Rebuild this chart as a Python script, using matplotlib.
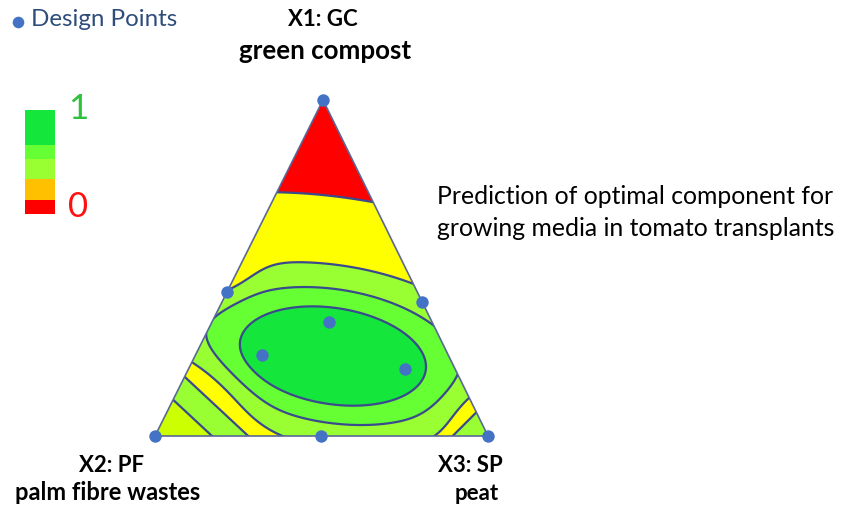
import numpy as np
import matplotlib
matplotlib.use("Agg")
import matplotlib.pyplot as plt
from matplotlib.patches import Polygon, Rectangle

plt.rcParams['font.family'] = ['Lato', 'DejaVu Sans']

# ---------------- data ----------------
vertex_codes = ["X1: GC", "X2: PF", "X3: SP"]
vertex_names = ["green compost", "palm fibre wastes", "peat"]
title_lines = ["Prediction of optimal component for",
               "growing media in tomato transplants"]

# design points of the mixture experiment (fractions of GC, PF, SP)
design_gc = [1.00, 0.00, 0.00, 0.43, 0.40, 0.00, 0.34, 0.24, 0.20]
design_pf = [0.00, 1.00, 0.00, 0.57, 0.00, 0.50, 0.31, 0.56, 0.15]
design_sp = [0.00, 0.00, 1.00, 0.00, 0.60, 0.50, 0.35, 0.20, 0.65]

# desirability classes
class_levels = [-1.0, 0.088, 0.45, 0.65, 0.80, 2.0]
class_colors = ["#ff0000", "#ffff00", "#99ff33", "#66ff33", "#14e63c"]
line_levels = [0.088, 0.45, 0.65, 0.80]
corner_level = 0.55
corner_color = "#ccff00"

legend_colors = ["#ff0000", "#ffc000", "#99ff33", "#66ff33", "#14e63c"]
legend_low, legend_high = "0", "1"

# optimum blend (GC, PF, SP) of the desirability surface
optimum = (0.238, 0.348, 0.414)

# ---------------- layout ----------------
W, H = 856, 509
apex = {"GC": (323, 100), "PF": (155, 436), "SP": (488, 436)}
line_color = "#3a4a8c"
point_color = "#4472c4"


def to_xy(gc, pf, sp):
    gc, pf, sp = np.asarray(gc), np.asarray(pf), np.asarray(sp)
    x = gc * apex["GC"][0] + pf * apex["PF"][0] + sp * apex["SP"][0]
    y = gc * apex["GC"][1] + pf * apex["PF"][1] + sp * apex["SP"][1]
    return x, y


def stripe(X, Y, x0, y0, ax_dir, s_along, s_cross, depth):
    ax_dir = np.asarray(ax_dir, float) / np.hypot(*ax_dir)
    a = (X - x0) * ax_dir[0] + (Y - y0) * ax_dir[1]
    c = -(X - x0) * ax_dir[1] + (Y - y0) * ax_dir[0]
    return depth * np.exp(-0.5 * ((a / s_along) ** 2 + (c / s_cross) ** 2))


def desirability(X, Y):
    cx, cy = to_xy(*optimum)
    th = np.deg2rad(9.0)
    dx, dy = X - cx, Y - cy
    u = dx * np.cos(th) + dy * np.sin(th)
    v = -dx * np.sin(th) + dy * np.cos(th)
    core = np.exp(-0.223 * ((u / 94.0) ** 2 + (v / 48.0) ** 2))
    # troughs between the optimum and the binary blends
    core = core - stripe(X, Y, 215, 385, (0.73, 0.68), 40, 14, 0.17)
    core = core - stripe(X, Y, 468, 405, (-0.707, 0.707), 30, 15, 0.14)
    core = core - stripe(X, Y, 226, 281, (0.87, -0.49), 25, 12, 0.16)
    # shoulders towards the pure PF and SP corners
    xl, yl = apex["PF"]
    s_left = (X - xl) * 0.68 - (Y - yl) * 0.73
    left = 0.62 * np.exp(-(s_left / 112.0) ** 2)
    xr, yr = apex["SP"]
    s_right = -(X - xr) * 0.707 - (Y - yr) * 0.707
    right = 0.52 * np.exp(-(s_right / 65.7) ** 2)
    return np.maximum.reduce([core, left, right]), left


fig = plt.figure(figsize=(W / 100, H / 100), dpi=100)
ax = fig.add_axes([0, 0, 1, 1])
ax.set_xlim(0, W)
ax.set_ylim(H, 0)
ax.axis("off")

tri = Polygon([apex["GC"], apex["PF"], apex["SP"]], closed=True,
              facecolor="none", edgecolor="#5a6896", lw=1.2, zorder=4)
ax.add_patch(tri)

xs = np.linspace(140, 505, 731)
ys = np.linspace(90, 446, 713)
X, Y = np.meshgrid(xs, ys)
F, corner = desirability(X, Y)

fills = ax.contourf(X, Y, F, levels=class_levels, colors=class_colors, zorder=1)
fills.set_clip_path(tri)
corner_fill = ax.contourf(X, Y, corner, levels=[corner_level, 2.0],
                          colors=[corner_color], zorder=2)
corner_fill.set_clip_path(tri)
lines = ax.contour(X, Y, F, levels=line_levels, colors=line_color,
                   linewidths=1.6, zorder=3)
lines.set_clip_path(tri)
corner_line = ax.contour(X, Y, corner, levels=[corner_level], colors=line_color,
                         linewidths=1.6, zorder=3)
corner_line.set_clip_path(tri)

px, py = to_xy(design_gc, design_pf, design_sp)
ax.scatter(px, py, s=80, color=point_color, zorder=6, clip_on=False, lw=0)

# vertex labels
ax.text(323, 19, vertex_codes[0], ha="center", va="center", fontsize=16,
        fontweight="bold")
ax.text(325, 51, vertex_names[0], ha="center", va="center", fontsize=18.6,
        fontweight="bold")
ax.text(112, 466, vertex_codes[1], ha="center", va="center", fontsize=16,
        fontweight="bold")
ax.text(108, 493, vertex_names[1], ha="center", va="center", fontsize=17,
        fontweight="bold")
ax.text(470, 466, vertex_codes[2], ha="center", va="center", fontsize=16,
        fontweight="bold")
ax.text(477, 493, vertex_names[2], ha="center", va="center", fontsize=16,
        fontweight="bold")

# title block
ax.text(437, 197, title_lines[0], ha="left", va="center", fontsize=17.8)
ax.text(437, 229, title_lines[1], ha="left", va="center", fontsize=17.8)

# design point key
ax.scatter([18], [22], s=70, color=point_color, lw=0, clip_on=False)
ax.text(31, 19, "Design Points", ha="left", va="center", fontsize=17.4,
        color="#2e4d7b")

# desirability colour key
edges = [214, 200, 179, 159, 145, 110]
for i, col in enumerate(legend_colors):
    ax.add_patch(Rectangle((25, edges[i + 1]), 30, edges[i] - edges[i + 1],
                           facecolor=col, edgecolor="none"))
ax.text(68, 109, legend_high, ha="left", va="center", fontsize=25,
        color="#2dc23a")
ax.text(68, 207, legend_low, ha="left", va="center", fontsize=25,
        color="#ff1010")

fig.savefig("out.png", dpi=100)
